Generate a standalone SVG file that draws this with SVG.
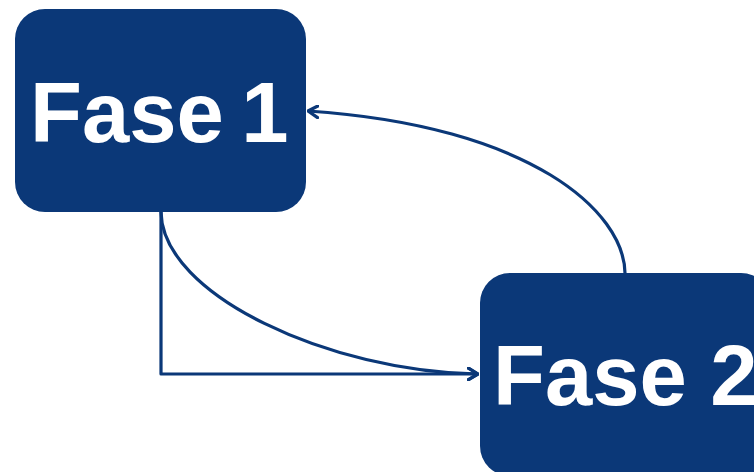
<svg xmlns="http://www.w3.org/2000/svg" width="754" height="472" viewBox="0 0 754 472">
  <style>
    .box { fill: #0b3878; }
    .label { fill: #ffffff; font-family: "Liberation Sans", Arial, sans-serif; font-weight: bold; font-size: 85px; }
    .link { fill: none; stroke: #0b3878; stroke-width: 3.2; stroke-linejoin: round; }
  </style>
  <defs>
    <marker id="arrow" viewBox="0 0 12 14" refX="11" refY="7" markerWidth="12" markerHeight="14" markerUnits="userSpaceOnUse" orient="auto">
      <path d="M1,1 L11,7 L1,13" fill="none" stroke="#0b3878" stroke-width="3.2" stroke-linecap="round" stroke-linejoin="round"/>
    </marker>
  </defs>
  <rect width="754" height="472" fill="#ffffff"/>
  <g id="connectors">
    <path class="link" d="M625,273 C624,212 532,126 308,111" marker-end="url(#arrow)"/>
    <path class="link" d="M161,212 C162,295 330,372 478,374" marker-end="url(#arrow)"/>
    <path class="link" d="M161,212 L161,374 L478,374" marker-end="url(#arrow)"/>
  </g>
  <g id="fase1">
    <rect class="box" x="15" y="9" width="291" height="203" rx="30" ry="30"/>
    <text class="label" x="30" y="142" word-spacing="-6">Fase 1</text>
  </g>
  <g id="fase2">
    <rect class="box" x="480" y="273" width="291" height="203" rx="30" ry="30"/>
    <text class="label" x="493" y="405">Fase 2</text>
  </g>
</svg>
